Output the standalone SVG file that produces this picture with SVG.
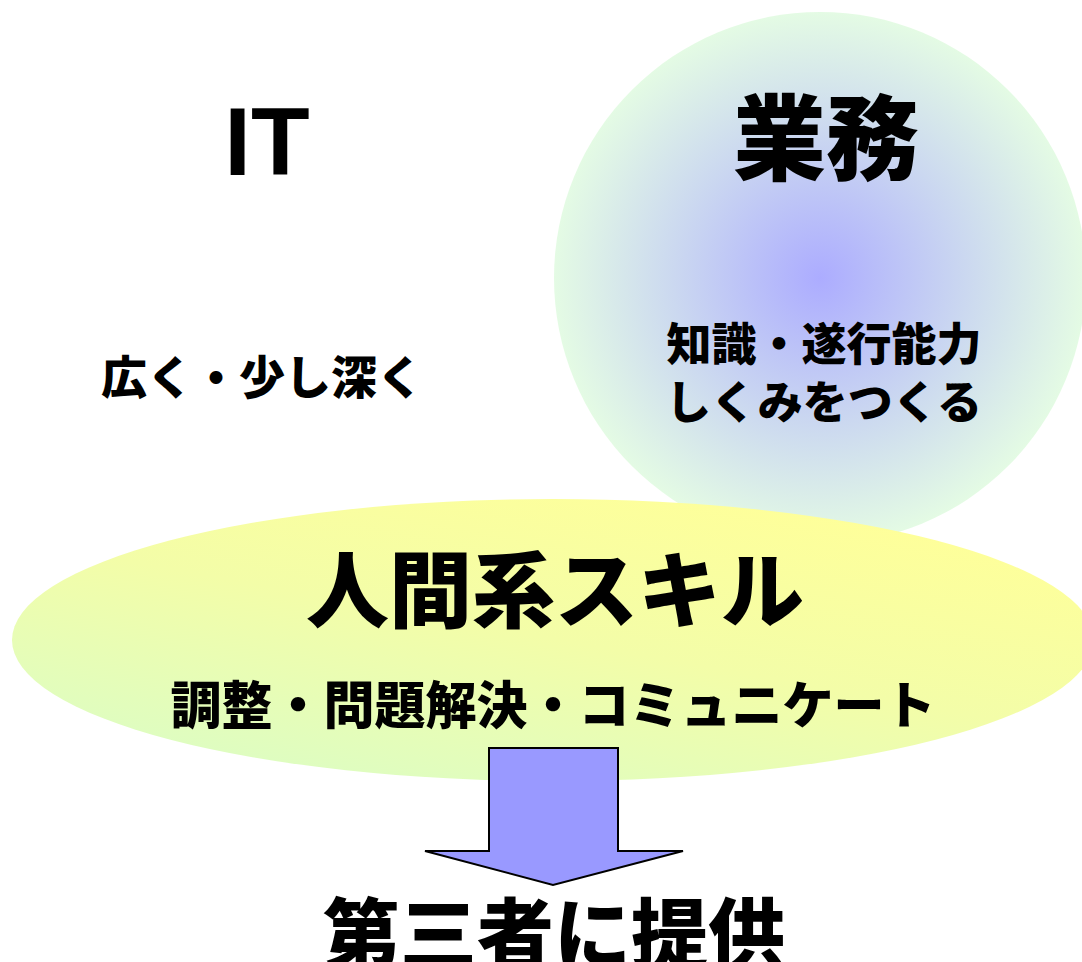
<svg xmlns="http://www.w3.org/2000/svg" width="1082" height="962" viewBox="0 0 1082 962">
  <style>
    .jp { font-family: "Noto Sans CJK JP", "Noto Sans", sans-serif; font-weight: 900; fill: #000; text-anchor: middle; dominant-baseline: central; }
    .lat { font-family: "Liberation Sans", Arial, sans-serif; font-weight: bold; fill: #000; text-anchor: middle; }
  </style>
  <defs>
    <radialGradient id="gCircle" cx="0.5" cy="0.5" r="0.5">
      <stop offset="0" stop-color="#acacff"/>
      <stop offset="0.55" stop-color="#cbd8f0"/>
      <stop offset="1" stop-color="#e4fbe4"/>
    </radialGradient>
    <linearGradient id="gEllipse" x1="0.05" y1="1" x2="0.75" y2="0">
      <stop offset="0" stop-color="#d8fdc8"/>
      <stop offset="0.55" stop-color="#f3fda8"/>
      <stop offset="1" stop-color="#ffff99"/>
    </linearGradient>
  </defs>
  <rect width="1082" height="962" fill="#ffffff"/>

  <g id="node-it">
    <text class="lat" x="267" y="175" font-size="96">IT</text>
    <text class="jp" x="262" y="374" font-size="46">広く・少し深く</text>
  </g>

  <g id="node-gyomu">
    <circle cx="820" cy="278" r="266" fill="url(#gCircle)"/>
    <text class="jp" x="826" y="132" font-size="93">業務</text>
    <text class="jp" x="824" y="341" font-size="45">知識・遂行能力</text>
    <text class="jp" x="824" y="399" font-size="45">しくみをつくる</text>
  </g>

  <g id="node-human">
    <ellipse cx="553" cy="640" rx="541" ry="141" fill="url(#gEllipse)"/>
    <text class="jp" x="555" y="585" font-size="83">人間系スキル</text>
    <text class="jp" x="553" y="702" font-size="51">調整・問題解決・コミュニケート</text>
  </g>

  <g id="connectors">
    <path d="M489,748 H618 V851 H683 L553,885 L425,851 H489 Z" fill="#9999ff" stroke="#000" stroke-width="2" stroke-linejoin="miter"/>
  </g>

  <g id="node-provide">
    <text class="jp" x="554" y="929" font-size="77">第三者に提供</text>
  </g>
</svg>
